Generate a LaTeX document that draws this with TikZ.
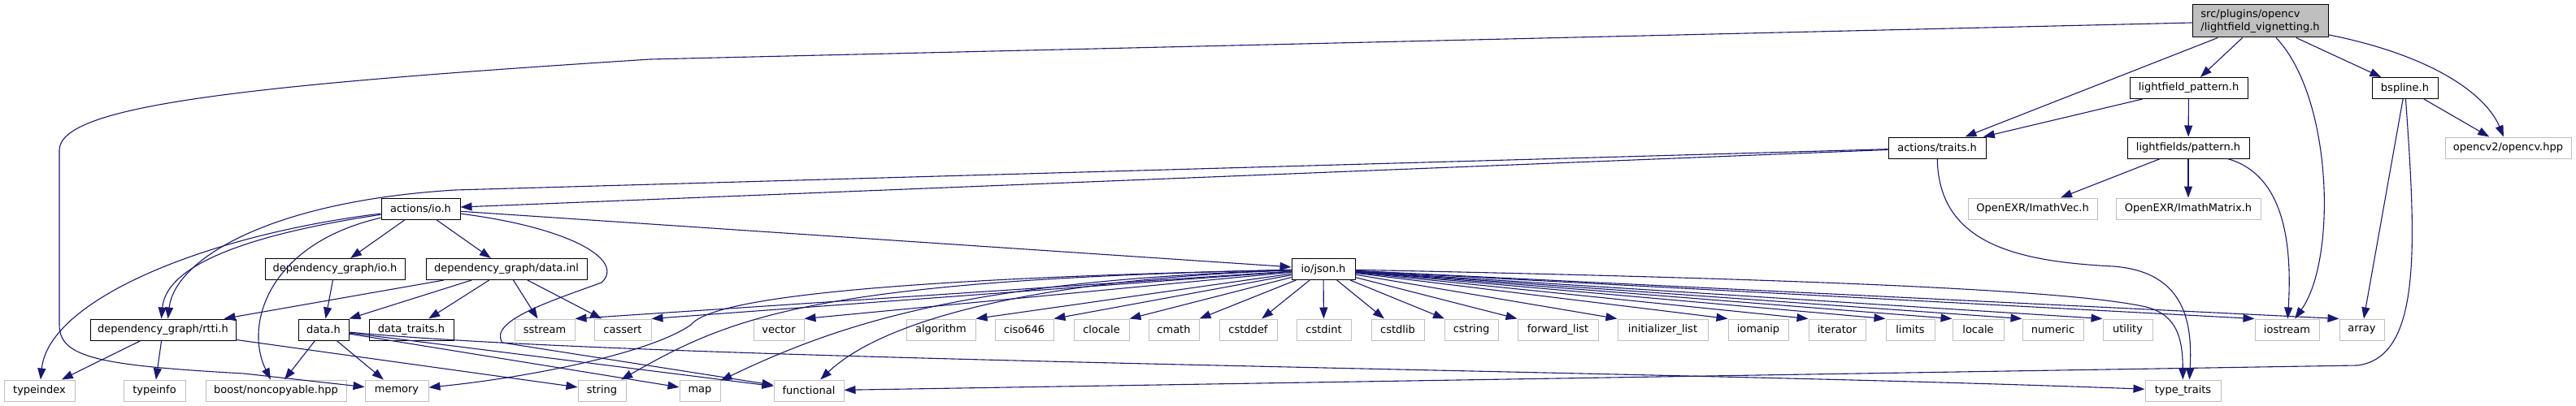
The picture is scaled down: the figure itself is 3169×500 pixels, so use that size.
\documentclass[tikz,border=0pt]{standalone}
\usepackage{fontspec}
\setmainfont{DejaVu Sans}
\usetikzlibrary{arrows.meta}
\definecolor{edgeblue}{HTML}{191970}
\definecolor{sysgray}{HTML}{BFBFBF}

\begin{document}
\begin{tikzpicture}[
    x=1pt, y=-1pt,
    box/.style={rectangle, inner sep=0pt, minimum height=26pt, line width=1pt,
                font=\fontsize{13}{16}\selectfont},
    doc/.style={box, draw=black, fill=white},
    sys/.style={box, draw=sysgray, fill=white},
    top/.style={box, draw=black, fill=sysgray, align=left, minimum height=40pt},
    inc/.style={edgeblue, line width=1.1pt, -{Triangle[length=14pt, width=10pt]}}
  ]
  \useasboundingbox (0,0) rectangle (3169,500);

  \node[top, minimum width=167pt] (main) at (2780.5,26) {src/plugins/opencv\\/lightfield\_vignetting.h};

  \node[doc, minimum width=145pt] (lfpattern) at (2692.5,108.5) {lightfield\_pattern.h};
  \node[doc, minimum width=81pt] (bspline) at (2958.5,108.5) {bspline.h};

  \node[doc, minimum width=120pt] (traits) at (2383,182) {actions/traits.h};
  \node[doc, minimum width=150pt] (lfspattern) at (2692,182) {lightfields/pattern.h};
  \node[sys, minimum width=155pt] (opencv) at (3085.5,182) {opencv2/opencv.hpp};

  \node[doc, minimum width=97pt] (actio) at (517.5,257) {actions/io.h};
  \node[sys, minimum width=159pt] (imvec) at (2500.5,257) {OpenEXR/ImathVec.h};
  \node[sys, minimum width=178pt] (immat) at (2692,257) {OpenEXR/ImathMatrix.h};

  \node[doc, minimum width=172pt] (dgio) at (412,331.5) {dependency\_graph/io.h};
  \node[doc, minimum width=198pt] (dginl) at (623,331.5) {dependency\_graph/data.inl};
  \node[doc, minimum width=78pt] (json) at (1628,331.5) {io/json.h};

  \node[doc, minimum width=179pt] (rtti) at (200.5,406) {dependency\_graph/rtti.h};
  \node[doc, minimum width=62pt] (datah) at (398,406) {data.h};
  \node[doc, minimum width=104pt] (dtraits) at (506,406) {data\_traits.h};
  \node[sys, minimum width=74pt] (sstream) at (670,406) {sstream};
  \node[sys, minimum width=70pt] (cassert) at (766,406) {cassert};
  \node[sys, minimum width=62pt] (vector) at (958,406) {vector};
  \node[sys, minimum width=85pt] (algorithm) at (1157.5,406) {algorithm};
  \node[sys, minimum width=72pt] (ciso) at (1260,406) {ciso646};
  \node[sys, minimum width=68pt] (clocale) at (1355,406) {clocale};
  \node[sys, minimum width=62pt] (cmath) at (1444,406) {cmath};
  \node[sys, minimum width=71pt] (cstddef) at (1535.5,406) {cstddef};
  \node[sys, minimum width=67pt] (cstdint) at (1628.5,406) {cstdint};
  \node[sys, minimum width=65pt] (cstdlib) at (1719.5,406) {cstdlib};
  \node[sys, minimum width=66pt] (cstring) at (1810,406) {cstring};
  \node[sys, minimum width=99pt] (fwdlist) at (1916.5,406) {forward\_list};
  \node[sys, minimum width=111pt] (initlist) at (2045.5,406) {initializer\_list};
  \node[sys, minimum width=74pt] (iomanip) at (2163,406) {iomanip};
  \node[sys, minimum width=70pt] (iterator) at (2260,406) {iterator};
  \node[sys, minimum width=60pt] (limits) at (2350,406) {limits};
  \node[sys, minimum width=63pt] (locale) at (2433.5,406) {locale};
  \node[sys, minimum width=75pt] (numeric) at (2525.5,406) {numeric};
  \node[sys, minimum width=61pt] (utility) at (2617.5,406) {utility};
  \node[sys, minimum width=79pt] (iostream) at (2813.5,406) {iostream};
  \node[sys, minimum width=55pt] (array) at (2905.5,406) {array};

  \node[sys, minimum width=87pt] (typeindex) at (48.5,481) {typeindex};
  \node[sys, minimum width=76pt] (typeinfo) at (190,481) {typeinfo};
  \node[sys, minimum width=173pt] (noncopy) at (339.5,481) {boost/noncopyable.hpp};
  \node[sys, minimum width=78pt] (memory) at (488,481) {memory};
  \node[sys, minimum width=59pt] (string) at (740.5,481) {string};
  \node[sys, minimum width=50pt] (map) at (861,481) {map};
  \node[sys, minimum width=86pt] (functional) at (995,481) {functional};
  \node[sys, minimum width=93pt] (typetraits) at (2685.5,481) {type\_traits};

  \draw[inc] (main) -- (800,73) .. controls (300,105) and (73,130) .. (73,185) -- (73,400)
    .. controls (73,440) and (120,450) .. (300,460) -- (memory);
  \draw[inc] (main) -- (traits);
  \draw[inc] (main) -- (lfpattern);
  \draw[inc] (main) .. controls (2870,120) and (2875,320) .. (iostream);
  \draw[inc] (main) -- (bspline);
  \draw[inc] (main) .. controls (3000,70) and (3060,120) .. (opencv);

  \draw[inc] (lfpattern) -- (traits);
  \draw[inc] (lfpattern) -- (lfspattern);
  \draw[inc] (bspline) -- (opencv);
  \draw[inc] (bspline) -- (array);
  \draw[inc] (bspline) .. controls (2972,300) and (2980,440) .. (2900,450) -- (functional);

  \draw[inc] (traits) -- (actio);
  \draw[inc] (traits) -- (560,234) .. controls (330,248) and (215,320) .. ([xshift=6pt]rtti.north);
  \draw[inc] (traits) .. controls (2385,300) and (2480,322) .. (2600,328)
    .. controls (2690,335) and (2697,400) .. ([xshift=8pt]typetraits.north);
  \draw[inc] (lfspattern) -- (imvec);
  \draw[inc] (lfspattern) -- (immat);
  \draw[inc] (lfspattern) .. controls (2810,215) and (2820,300) .. (iostream);

  \draw[inc] (actio) -- (dgio);
  \draw[inc] (actio) -- (dginl);
  \draw[inc] (actio) -- (json);
  \draw[inc] (actio) .. controls (330,285) and (205,320) .. ([xshift=-2pt]rtti.north);
  \draw[inc] (actio) .. controls (250,290) and (60,370) .. (typeindex);
  \draw[inc] (actio) .. controls (330,300) and (300,400) .. (noncopy);
  \draw[inc] (actio) .. controls (700,280) and (770,320) .. (740,348)
    .. controls (680,370) and (600,395) .. (618,422) -- (functional);

  \draw[inc] (dgio) -- (datah);
  \draw[inc] (dginl) -- ([xshift=-15pt]rtti.north east);
  \draw[inc] (dginl) -- (datah.north east);
  \draw[inc] (dginl) -- (dtraits);
  \draw[inc] (dginl) -- (sstream);
  \draw[inc] (dginl) -- (cassert);

  \draw[inc] (rtti) -- (typeindex);
  \draw[inc] (rtti) -- (typeinfo);
  \draw[inc] (rtti) -- (string);
  \draw[inc] (datah) -- (noncopy);
  \draw[inc] (datah) -- (memory);
  \draw[inc] (datah) -- (map);
  \draw[inc] (datah) -- (functional);
  \draw[inc] (datah) .. controls (800,445) and (2000,455) .. (typetraits);

  \draw[inc] (json) -- (sstream.north east);
  \draw[inc] (json) -- (cassert.north east);
  \draw[inc] (json) -- (vector.north east);
  \draw[inc] (json) -- (algorithm.north east);
  \draw[inc] (json) -- (ciso.north east);
  \draw[inc] (json) -- (clocale.north east);
  \draw[inc] (json) -- (cmath.north east);
  \draw[inc] (json) -- (cstddef);
  \draw[inc] (json) -- (cstdint);
  \draw[inc] (json) -- (cstdlib);
  \draw[inc] (json) -- (cstring);
  \draw[inc] (json) -- (fwdlist.north west);
  \draw[inc] (json) -- (initlist.north west);
  \draw[inc] (json) -- (iomanip.north west);
  \draw[inc] (json) -- (iterator.north west);
  \draw[inc] (json) -- (limits.north west);
  \draw[inc] (json) -- (locale.north west);
  \draw[inc] (json) -- (numeric.north west);
  \draw[inc] (json) -- (utility.north west);
  \draw[inc] (json) -- (iostream.north west);
  \draw[inc] (json) -- (array.north west);
  \draw[inc] (json) .. controls (2300,345) and (2560,360) .. (2640,378)
    .. controls (2680,388) and (2685,420) .. (typetraits);
  \draw[inc] (json) .. controls (1000,345) and (870,375) .. (850,400)
    .. controls (800,435) and (650,465) .. (memory);
  \draw[inc] (json) .. controls (1000,345) and (900,390) .. (string);
  \draw[inc] (json) .. controls (1200,345) and (1040,395) .. (map);
  \draw[inc] (json) .. controls (1250,345) and (1080,400) .. (functional);
\end{tikzpicture}
\end{document}
